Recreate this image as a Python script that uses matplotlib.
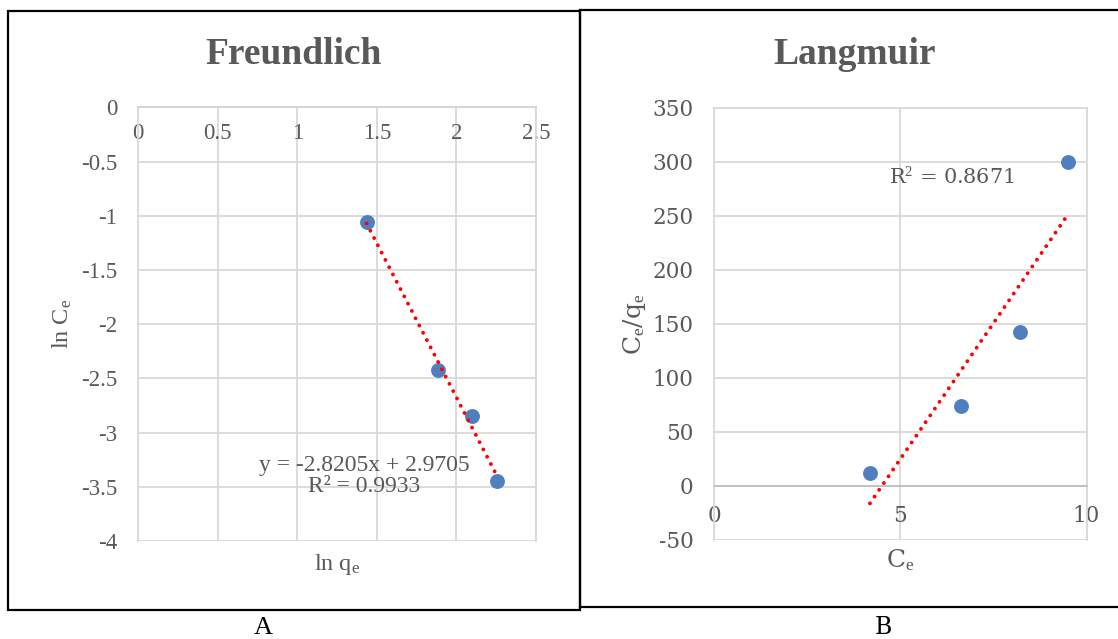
import numpy as np
import matplotlib
matplotlib.use("Agg")
import matplotlib.pyplot as plt
from matplotlib.ticker import FuncFormatter, MultipleLocator
from matplotlib.patches import Rectangle
from matplotlib.lines import Line2D

plt.rcParams['axes.unicode_minus'] = False
plt.rcParams['mathtext.fontset'] = 'custom'
plt.rcParams['mathtext.rm'] = 'Liberation Serif'
plt.rcParams['mathtext.it'] = 'Liberation Serif:italic'

# ---------------- data ----------------
freund_ln_qe = [1.435, 1.885, 2.100, 2.255]
freund_ln_ce = [-1.06, -2.42, -2.85, -3.45]
freund_eq = "y = -2.8205x + 2.9705\nR² = 0.9933"

lang_ce = [4.18, 6.62, 8.21, 9.505]
lang_ce_qe = [12.0, 74.0, 142.0, 300.0]
lang_eq = "R$^{2}$ = 0.8671"

W, H = 1118, 639
fig = plt.figure(figsize=(W / 100, H / 100), dpi=100)

def fx(px):
    return px / W

def fy(py):
    return 1 - py / H

TXT = '#595959'
GRID = '#D9D9D9'
AXC = '#BFBFBF'
BLUE = '#4F7FBF'
RED = '#FF0000'

def fmt(v, pos):
    return ('%g' % round(v, 6))

# ---------------- panel borders ----------------
fig.add_artist(Rectangle((fx(8), fy(610)), fx(580) - fx(8), fy(11) - fy(610),
                         transform=fig.transFigure, fill=False, ec='black', lw=1.6))
fig.add_artist(Line2D([fx(580), fx(1118)], [fy(10), fy(10)], transform=fig.transFigure, color='black', lw=1.6))
fig.add_artist(Line2D([fx(580), fx(1118)], [fy(607), fy(607)], transform=fig.transFigure, color='black', lw=1.6))
fig.add_artist(Line2D([fx(580), fx(580)], [fy(10), fy(607)], transform=fig.transFigure, color='black', lw=1.6))

def style_axes(ax, family, tick_fs, xpad, ypad):
    ax.grid(True, color=GRID, lw=1.3)
    ax.set_axisbelow(True)
    for s in ['top', 'left', 'right']:
        ax.spines[s].set_color(GRID)
        ax.spines[s].set_linewidth(1.3)
    ax.spines['bottom'].set_position(('data', 0))
    ax.spines['bottom'].set_color(AXC)
    ax.spines['bottom'].set_linewidth(1.3)
    ax.tick_params(length=0, colors=TXT, labelsize=tick_fs)
    ax.tick_params(axis='x', pad=xpad)
    ax.tick_params(axis='y', pad=ypad)
    ax.xaxis.set_major_formatter(FuncFormatter(fmt))
    ax.yaxis.set_major_formatter(FuncFormatter(fmt))
    for lab in ax.get_xticklabels() + ax.get_yticklabels():
        lab.set_family(family)

# ---------------- Freundlich ----------------
axA = fig.add_axes([fx(138.3), fy(541), fx(536) - fx(138.3), fy(107.3) - fy(541)])
axA.set_xlim(0, 2.5)
axA.set_ylim(-4, 0)
axA.xaxis.set_major_locator(MultipleLocator(0.5))
axA.yaxis.set_major_locator(MultipleLocator(0.5))
style_axes(axA, 'Liberation Serif', 16.5, 11, 15)

axA.scatter(freund_ln_qe, freund_ln_ce, s=115, color=BLUE, zorder=3, lw=0)
k, b = np.polyfit(freund_ln_qe, freund_ln_ce, 1)
xs = np.array([min(freund_ln_qe), max(freund_ln_qe)])
axA.plot(xs, k * xs + b, color=RED, lw=2.8, linestyle=(0, (0.01, 2.1)),
         dash_capstyle='round', zorder=4)
axA.text(0.5675, 0.15, freund_eq, transform=axA.transAxes, ha='center', va='center',
         multialignment='center', fontsize=17, color=TXT, family='Liberation Serif',
         linespacing=0.95, zorder=5)

axA.set_ylabel(r'ln C$_\mathrm{e}$', fontsize=17.5, color=TXT, family='Liberation Serif')
axA.yaxis.set_label_coords(-0.162, 0.5)
axA.set_xlabel(r'ln q$_\mathrm{e}$', fontsize=17.5, color=TXT, family='Liberation Serif')
axA.xaxis.set_label_coords(0.5, -0.026)

fig.text(fx(294), fy(54), 'Freundlich', ha='center', va='center', fontsize=27,
         fontweight='bold', color=TXT, family='Liberation Serif')
fig.text(fx(263), fy(628), 'A', ha='center', va='center', fontsize=19,
         color='black', family='Liberation Serif')

# ---------------- Langmuir ----------------
axB = fig.add_axes([fx(714.4), fy(539.7), fx(1086.5) - fx(714.4), fy(108) - fy(539.7)])
axB.set_xlim(0, 10)
axB.set_ylim(-50, 350)
axB.xaxis.set_major_locator(MultipleLocator(5))
axB.yaxis.set_major_locator(MultipleLocator(50))
style_axes(axB, 'DejaVu Serif', 15.5, 14, 15)

axB.scatter(lang_ce, lang_ce_qe, s=115, color=BLUE, zorder=3, lw=0)
k2, b2 = np.polyfit(lang_ce, lang_ce_qe, 1)
xs2 = np.array([min(lang_ce), max(lang_ce)])
axB.plot(xs2, k2 * xs2 + b2, color=RED, lw=2.8, linestyle=(0, (0.01, 2.1)),
         dash_capstyle='round', zorder=4)
axB.text(fx(952), fy(177), lang_eq, transform=fig.transFigure, ha='center', va='center',
         fontsize=15, color=TXT, family='DejaVu Serif', zorder=5)

axB.set_ylabel(r'C$_\mathrm{e}$/q$_\mathrm{e}$', fontsize=18, color=TXT, family='DejaVu Serif')
axB.yaxis.set_label_coords(-0.178, 0.5)
axB.set_xlabel(r'C$_\mathrm{e}$', fontsize=18, color=TXT, family='DejaVu Serif')
axB.xaxis.set_label_coords(0.5, -0.017)

fig.text(fx(855), fy(54), 'Langmuir', ha='center', va='center', fontsize=27,
         fontweight='bold', color=TXT, family='Liberation Serif')
fig.text(fx(883), fy(628), 'B', ha='center', va='center', fontsize=17,
         color='black', family='DejaVu Serif')

fig.savefig('out.png', dpi=100)
